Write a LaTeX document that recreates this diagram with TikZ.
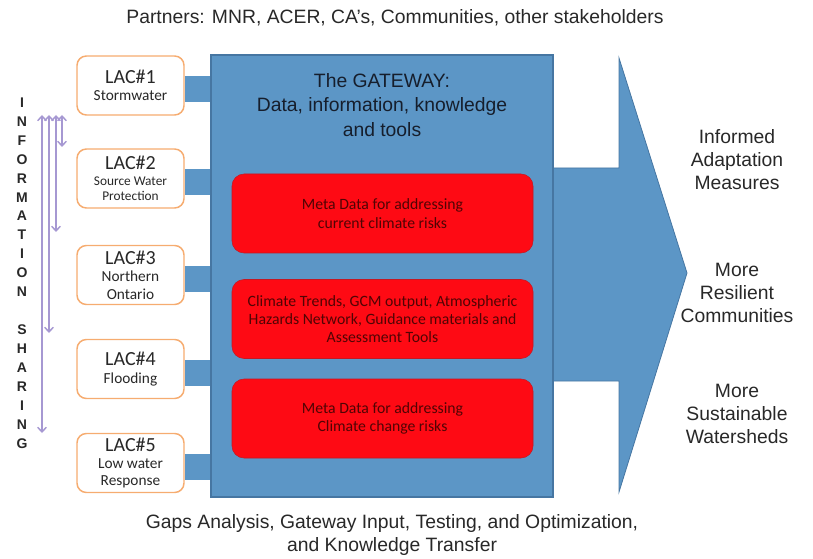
\documentclass[tikz,border=0pt]{standalone}
\usepackage{fontspec}
\setmainfont{Liberation Sans}
\newfontfamily\calfont{Carlito}
\usetikzlibrary{arrows.meta,backgrounds,calc}

\definecolor{gateblue}{RGB}{92,150,198}
\definecolor{gateedge}{RGB}{70,118,162}
\definecolor{lacorange}{RGB}{246,172,112}
\definecolor{metared}{RGB}{254,10,20}
\definecolor{metaedge}{RGB}{196,24,34}
\definecolor{metatext}{RGB}{80,4,4}
\definecolor{sharepurple}{RGB}{166,152,210}
\definecolor{labelgray}{RGB}{40,40,40}
\definecolor{titlenavy}{RGB}{22,30,44}

\tikzset{
  lacbox/.style={draw=lacorange, line width=1.1pt, fill=white, rounded corners=7pt,
    minimum width=80.25pt, minimum height=44.25pt, align=center, inner sep=0pt,
    text=labelgray, font=\calfont\fontsize{11.5}{13}\selectfont},
  metabox/.style={draw=metaedge, fill=metared, rounded corners=9pt,
    minimum width=225.75pt, minimum height=59.25pt, align=center, inner sep=0pt,
    text=metatext, font=\calfont\fontsize{11.8}{13.8}\selectfont},
  gatebox/.style={draw=gateedge, line width=0.9pt, fill=gateblue,
    minimum width=256.5pt, minimum height=331.5pt, inner sep=0pt},
  bar/.style={draw=gateblue, line width=19.5pt},
  share/.style={sharepurple, line width=1.1pt,
    {Straight Barb[length=3.5pt,width=6.5pt]}-{Straight Barb[length=3.5pt,width=6.5pt]}},
  outtext/.style={align=center, text=labelgray, font=\fontsize{14.5}{17.3}\selectfont},
}
\newcommand{\lactitle}[1]{{\fontsize{15}{17}\selectfont LAC\##1}}

\begin{document}
\begin{tikzpicture}[x=0.75pt,y=0.75pt,yscale=-1,xscale=1]
\useasboundingbox (0,0) rectangle (813,559);

% big arrow out of the gateway
\draw [gateedge, fill=gateblue, line width=0.6pt] (540,168) -- (619,168) -- (619,58) -- (687,273) -- (619,492) -- (619,381) -- (540,381) -- cycle;

\node [gatebox] (gateway) at (382,276) {};
\node [align=center, text=titlenavy, font=\fontsize{14.5}{18.4}\selectfont] (gatetitle) at (382,105) {The GATEWAY:\\Data, information, knowledge\\and tools};

\node [metabox] (meta1) at (382.5,213.5) {Meta Data for addressing\\current climate risks};
\node [metabox] (meta2) at (382.5,319) {Climate Trends, GCM output, Atmospheric\\Hazards Network, Guidance materials and\\Assessment Tools};
\node [metabox] (meta3) at (382.5,418.5) {Meta Data for addressing\\Climate change risks};

% LACs
\node [lacbox] (lac1) at (130.5,85.5) {\lactitle{1}\\Stormwater};
\node [lacbox, font=\calfont\fontsize{10}{11.5}\selectfont] (lac2) at (130.5,178.5) {\lactitle{2}\\Source Water\\Protection};
\node [lacbox] (lac3) at (130.5,275) {\lactitle{3}\\Northern\\Ontario};
\node [lacbox] (lac4) at (130.5,369) {\lactitle{4}\\Flooding};
\node [lacbox] (lac5) at (130.5,463) {\lactitle{5}\\Low water\\Response};

\begin{scope}[on background layer]
\foreach \n in {1,...,5} {
  \coordinate (barstart\n) at ($(lac\n.east)+(0,4)$);
  \draw [bar] (barstart\n) -- (barstart\n -| gateway.west);
}
\end{scope}

% information sharing
\node [align=center, text=labelgray, font=\bfseries\fontsize{10.5}{14.2}\selectfont] (infolabel) at (22,273) {I\\N\\F\\O\\R\\M\\A\\T\\I\\O\\N\\[14.2pt]S\\H\\A\\R\\I\\N\\G};
\foreach \x/\y in {62/147,56/232,49/333,42/433} {
  \coordinate (sharetop\x) at (\x,115);
  \coordinate (sharebot\x) at (\x,\y);
  \draw [share] (sharetop\x) -- (sharebot\x);
}

% outcomes
\node [outtext] (out1) at (737,160) {Informed\\Adaptation\\Measures};
\node [outtext] (out2) at (737,293) {More\\Resilient\\Communities};
\node [outtext] (out3) at (737,414) {More\\Sustainable\\Watersheds};

\node [text=labelgray, font=\fontsize{14.5}{17}\selectfont] (partners) at (395,18) {Partners: MNR, ACER, CA’s, Communities, other stakeholders};
\node [align=center, text=labelgray, font=\fontsize{14.5}{17.3}\selectfont] (gaps) at (392,535) {Gaps Analysis, Gateway Input, Testing, and Optimization,\\and Knowledge Transfer};
\end{tikzpicture}
\end{document}
